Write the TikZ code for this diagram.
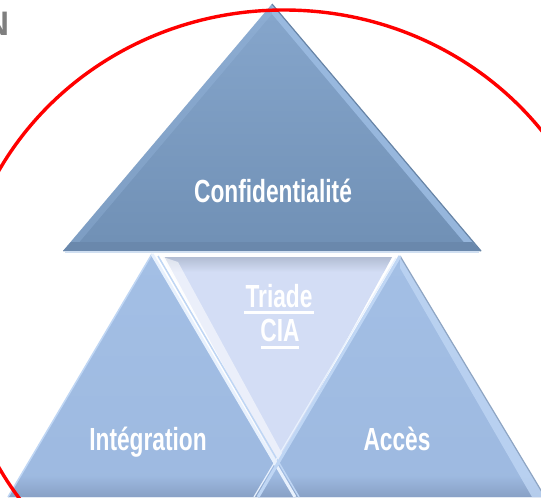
\documentclass[tikz,border=0pt]{standalone}
\usepackage{fontspec}
\setmainfont{Liberation Sans}
\usepackage{graphicx}
\usetikzlibrary{calc}
\definecolor{tTop}{HTML}{86A6CC}
\definecolor{tBot}{HTML}{7090B5}
\definecolor{tDark}{HTML}{6A88AC}
\definecolor{tBevel}{HTML}{9DBDE3}
\definecolor{tEdge}{HTML}{6784A6}
\definecolor{tLine}{HTML}{D0DFF1}
\definecolor{bTop}{HTML}{A3BFE5}
\definecolor{bFill}{HTML}{9DB9E0}
\definecolor{bBand}{HTML}{879FC4}
\definecolor{bHi}{HTML}{E8F1FD}
\definecolor{bHiB}{HTML}{BFD6F4}
\definecolor{bEdge}{HTML}{8EA5C3}
\definecolor{iFill}{HTML}{D3DDF5}
\definecolor{iShadow}{HTML}{B2BDD3}
\definecolor{ringRed}{HTML}{FF0000}
\definecolor{nGray}{HTML}{7F7F7F}
\tikzset{
  lbl/.style={text=white, font=\bfseries\fontsize{32}{36}\selectfont, inner sep=0pt, anchor=base},
  uline/.style={white, line width=3pt},
  ring/.style={ringRed, line width=3.4pt},
}
\newcommand{\cond}[1]{\scalebox{0.71}[1]{#1}}
\begin{document}
\begin{tikzpicture}[x=1pt,y=-1pt]
\useasboundingbox (0,0) rectangle (541,498);
\fill[white] (0,0) rectangle (541,498);
% corner points
\coordinate (TA) at (272,4);
\coordinate (TB) at (63,251);
\coordinate (TC) at (481,251);
\coordinate (LA) at (152,254);
\coordinate (LB) at (8,497);
\coordinate (LC) at (295,497);
\coordinate (RA) at (400,256);
\coordinate (RB) at (258,497);
\coordinate (RC) at (545,497);
\coordinate (IA) at (163,257);
\coordinate (IB) at (392,257);
\coordinate (IC) at (277,467);
% bottom-left triangle
\shade[top color=bTop, bottom color=bFill] (LA) -- (LB) -- (LC) -- cycle;
\begin{scope}
  \clip (LA) -- (LB) -- (LC) -- cycle;
  \shade[top color=bFill, bottom color=bBand] (0,476) rectangle (300,498);
\end{scope}
\draw[bHiB, line width=1.5pt] (LA) -- (LB);
% bottom-right triangle
\shade[top color=bTop, bottom color=bFill] (RA) -- (RB) -- (RC) -- cycle;
\begin{scope}
  \clip (RA) -- (RB) -- (RC) -- cycle;
  \shade[top color=bFill, bottom color=bBand] (250,476) rectangle (545,498);
  \fill[bHiB, opacity=0.8] (RA) -- (RC) -- (532,497) -- (400,268) -- cycle;
\end{scope}
\draw[bEdge, line width=1.2pt] (RA) -- (RC);
% inverted middle triangle
\fill[iFill] (IA) -- (IB) -- (IC) -- cycle;
\begin{scope}
  \clip (IA) -- (IB) -- (IC) -- cycle;
  \shade[top color=iShadow, bottom color=iFill] (150,257) rectangle (400,272);
  \fill[white, opacity=0.55] (IA) -- (IC) -- (283,455) -- (178,262) -- cycle;
\end{scope}
\draw[white, line width=2.5pt, opacity=0.9] (IA) -- (IC);
% edge highlights of the bottom triangles
\draw[bHi, line width=3pt] (LA) -- (LC);
\draw[bHiB, line width=1.5pt] ($(LA)+(6,2)$) -- ($(LC)+(4,0)$);
\draw[bHiB, line width=3pt] (RA) -- (RB);
\draw[bHi, line width=1.2pt] ($(RA)+(-4,2)$) -- ($(RB)+(-4,0)$);
% top triangle
\shade[top color=tTop, bottom color=tBot] (TA) -- (TB) -- (TC) -- cycle;
\fill[tBevel, opacity=0.85] (TA) -- (TC) -- (468,247) -- (272,14) -- cycle;
\fill[tBevel, opacity=0.3] (TA) -- (TB) -- (76,246) -- (272,14) -- cycle;
\fill[tDark] (TB) -- (TC) -- (472,242) -- (71,242) -- cycle;
\draw[tEdge, line width=1.2pt] (TA) -- (TC);
\draw[tLine, line width=2pt] ($(TB)+(2,1)$) -- ($(TC)+(-2,1)$);
% labels
\node[lbl] (conf) at (273,202) {\cond{Confidentialité}};
\node[lbl] (integ) at (148,450) {\cond{Intégration}};
\node[lbl] (acces) at (397,450) {\cond{Accès}};
\node[lbl] (triade) at (279,307) {\cond{Triade}};
\node[lbl] (cia) at (280,341) {\cond{CIA}};
\draw[uline] ($(triade.base west)+(-1,5.5)$) -- ($(triade.base east)+(1,5.5)$);
\draw[uline] ($(cia.base west)+(1,6.5)$) -- ($(cia.base east)+(-1,6.5)$);
% title fragment (cut by the left edge, as in the reference)
\node[text=nGray, font=\bfseries\fontsize{34}{40}\selectfont, inner sep=0pt, anchor=base east] (title) at (9.5,35) {N};
% red ring
\draw[ring] (284,319) ellipse [x radius=325, y radius=309];
\end{tikzpicture}
\end{document}
